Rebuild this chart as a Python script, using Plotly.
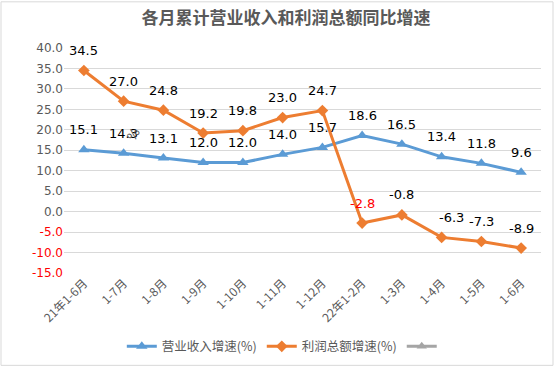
import plotly.graph_objects as go

categories = ["21年1-6月", "1-7月", "1-8月", "1-9月", "1-10月", "1-11月", "1-12月",
              "22年1-2月", "1-3月", "1-4月", "1-5月", "1-6月"]
revenue = [15.1, 14.3, 13.1, 12.0, 12.0, 14.0, 15.7, 18.6, 16.5, 13.4, 11.8, 9.6]
profit = [34.5, 27.0, 24.8, 19.2, 19.8, 23.0, 24.7, -2.8, -0.8, -6.3, -7.3, -8.9]
tick_vals = [40, 35, 30, 25, 20, 15, 10, 5, 0, -5, -10, -15]

BLUE = "#5B9BD5"
ORANGE = "#ED7D31"
GRAY = "#A5A5A5"
TXT = "#595959"
FONT = "DejaVu Sans, Noto Sans CJK SC, sans-serif"

fig = go.Figure()
fig.add_trace(go.Scatter(x=categories, y=revenue, mode="lines+markers", name="营业收入增速(%)",
                         line=dict(color=BLUE, width=3),
                         marker=dict(symbol="triangle-up", size=10, color=BLUE)))
fig.add_trace(go.Scatter(x=categories, y=profit, mode="lines+markers", name="利润总额增速(%)",
                         line=dict(color=ORANGE, width=3),
                         marker=dict(symbol="diamond", size=9, color=ORANGE)))
fig.add_trace(go.Scatter(x=[None], y=[None], mode="lines+markers", name=" ",
                         line=dict(color=GRAY, width=3),
                         marker=dict(symbol="triangle-up", size=9, color=GRAY)))

ann = []
for c, v in zip(categories, revenue):
    ann.append(dict(x=c, y=v, text=f"{v:.1f}", showarrow=False, yshift=20,
                    font=dict(size=13, color="#000000", family=FONT)))
for i, (c, v) in enumerate(zip(categories, profit)):
    col = "#FF0000" if c == "22年1-2月" else "#000000"
    xs = 10 if c == "1-4月" else 0
    ann.append(dict(x=c, y=v, text=f"{v:.1f}", showarrow=False, yshift=20, xshift=xs,
                    font=dict(size=13, color=col, family=FONT)))
ann.append(dict(xref="paper", yref="paper", x=(121 - 64) / 477, y=(277 - 124) / 229,
                text="%", showarrow=False, textangle=-60,
                font=dict(size=13, color=TXT, family=FONT)))

ticktext = [(f'<span style="color:#FF0000">{t:.1f}</span>' if t < 0 else f"{t:.1f}") for t in tick_vals]

fig.update_layout(
    width=556, height=374,
    margin=dict(l=64, r=15, t=48, b=97),
    paper_bgcolor="white", plot_bgcolor="white",
    font=dict(family=FONT, color=TXT, size=12),
    title=dict(text="<b>各月累计营业收入和利润总额同比增速</b>", x=286 / 556, xanchor="center",
               y=1 - 18 / 374, yanchor="middle",
               font=dict(size=17, color=TXT, family="Noto Sans CJK SC, sans-serif")),
    showlegend=True,
    legend=dict(orientation="h", x=0.465, xanchor="center", y=(277 - 352) / 229, yanchor="middle",
                font=dict(size=12.5, color=TXT, family="Noto Sans CJK SC, DejaVu Sans"),
                itemwidth=30, bgcolor="rgba(0,0,0,0)"),
    xaxis=dict(type="category", tickangle=-45, showgrid=False, showline=False, ticks="",
               tickfont=dict(size=12, color=TXT, family="Noto Sans CJK SC, DejaVu Sans"),
               range=[-0.5, len(categories) - 0.5], zeroline=False, automargin=False),
    yaxis=dict(range=[-15, 40], tickvals=tick_vals, ticktext=ticktext, showgrid=True,
               gridcolor="#D9D9D9", gridwidth=1, zeroline=False, showline=False, ticks="",
               tickfont=dict(size=12, color=TXT, family=FONT), automargin=False),
    annotations=ann,
    shapes=[dict(type="rect", xref="paper", yref="paper",
                 x0=(1 - 64) / 477, x1=(553 - 64) / 477,
                 y0=(277 - 371) / 229, y1=(277 - 1) / 229,
                 line=dict(color="#D9D9D9", width=1), fillcolor="rgba(0,0,0,0)", layer="below")],
)

fig.write_html("out.html", config={"displayModeBar": False},
               post_script="document.body.style.margin='0';")
